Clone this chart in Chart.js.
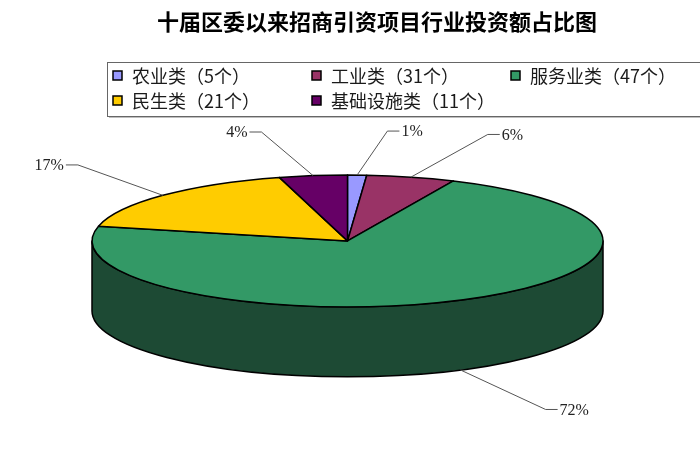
<!DOCTYPE html>
<html>
<head>
<meta charset="utf-8">
<script src="https://cdn.jsdelivr.net/npm/chart.js@4.4.1/dist/chart.umd.min.js"></script>
<style>
  html, body { margin: 0; padding: 0; background: #fff; }
  #wrap { width: 700px; height: 450px; position: relative; }
</style>
</head>
<body>
<div id="wrap"><canvas id="pieChart"></canvas></div>
<script>
// ===== data =====
const chartTitle    = "十届区委以来招商引资项目行业投资额占比图";
const categories    = ["农业类", "工业类", "服务业类", "民生类", "基础设施类"];
const projectCounts = [5, 31, 47, 21, 11];
const shareValues   = [1.2, 5.6, 71.8, 17.1, 4.3];

// ===== styles =====
const topColors  = ["#9999ff", "#993366", "#339966", "#ffcc00", "#660066"];
const sideColors = ["#55558f", "#55203a", "#1d4a34", "#8a6e00", "#3a003a"];
const TILT  = 0.258;   // ry / rx
const DEPTH = 0.274;   // depth / rx

const legendLabels = categories.map((c, i) => c + "（" + projectCounts[i] + "个）");

/** geometry of the flattened pie inside the chart area */
function pieGeom(chart) {
  const a = chart.chartArea;
  const rx = (a.right - a.left) / 2;
  const ry = rx * TILT;
  const d  = rx * DEPTH;
  return { cx: a.left + rx, cy: a.top + ry, rx, ry, d };
}

const pie3d = {
  id: "pie3d",
  beforeDatasetsDraw(chart) {
    const ctx  = chart.ctx;
    const meta = chart.getDatasetMeta(0);
    const g    = pieGeom(chart);
    ctx.save();
    ctx.lineJoin = "round";
    ctx.strokeStyle = "#000";
    ctx.lineWidth = 1.5;

    // side walls (front half only)
    meta.data.forEach((arc, i) => {
      for (const shift of [0, -2 * Math.PI, 2 * Math.PI]) {
        const s = Math.max(arc.startAngle + shift, 0);
        const e = Math.min(arc.endAngle + shift, Math.PI);
        if (e <= s) continue;
        ctx.beginPath();
        ctx.ellipse(g.cx, g.cy, g.rx, g.ry, 0, s, e);
        ctx.lineTo(g.cx + g.rx * Math.cos(e), g.cy + g.d + g.ry * Math.sin(e));
        ctx.ellipse(g.cx, g.cy + g.d, g.rx, g.ry, 0, e, s, true);
        ctx.closePath();
        ctx.fillStyle = sideColors[i];
        ctx.fill();
        ctx.stroke();
      }
    });

    // top faces
    meta.data.forEach((arc, i) => {
      ctx.beginPath();
      ctx.moveTo(g.cx, g.cy);
      ctx.ellipse(g.cx, g.cy, g.rx, g.ry, 0, arc.startAngle, arc.endAngle);
      ctx.closePath();
      ctx.fillStyle = topColors[i];
      ctx.fill();
      ctx.stroke();
    });

    // percentage labels with leader lines
    const total = shareValues.reduce((s, v) => s + v, 0);
    ctx.font = "16px 'Liberation Serif'";
    ctx.textBaseline = "middle";
    ctx.lineWidth = 1;
    ctx.strokeStyle = "#555";
    ctx.fillStyle = "#222";
    meta.data.forEach((arc, i) => {
      const m = (arc.startAngle + arc.endAngle) / 2;
      const c = Math.cos(m), sn = Math.sin(m);
      const side = c >= 0 ? 1 : -1;
      const ax = g.cx + g.rx * c;
      const ay = g.cy + g.ry * sn + (sn > 0 ? g.d : 0);
      const ex = ax + side * Math.min(85, 22 + 220 * Math.abs(c));
      const ey = ay + sn * 44;
      const hx = ex + side * 12;
      ctx.beginPath();
      ctx.moveTo(ax, ay);
      ctx.lineTo(ex, ey);
      ctx.lineTo(hx, ey);
      ctx.stroke();
      ctx.textAlign = side > 0 ? "left" : "right";
      const txt = Math.round(shareValues[i] / total * 100) + "%";
      ctx.fillText(txt, hx + side * 2, ey + 1);
    });

    ctx.restore();
    return false;
  },
  afterDraw(chart) {
    const ctx = chart.ctx;
    ctx.save();
    // title
    ctx.fillStyle = "#000";
    ctx.font = "bold 22px 'Noto Sans CJK SC'";
    ctx.textAlign = "center";
    ctx.textBaseline = "middle";
    ctx.fillText(chartTitle, 377, 22);

    // legend box
    const lx = 107, ly = 62, lh = 54;
    ctx.fillStyle = "rgba(0,0,0,0.25)";
    ctx.fillRect(lx + 2, ly + lh, 700, 2);
    ctx.fillStyle = "#fff";
    ctx.fillRect(lx, ly, 700, lh);
    ctx.strokeStyle = "#666";
    ctx.lineWidth = 1;
    ctx.strokeRect(lx + 0.5, ly + 0.5, 700, lh);

    ctx.font = "18px 'Noto Sans CJK SC'";
    ctx.textAlign = "left";
    legendLabels.forEach((t, i) => {
      const col = i % 3, row = Math.floor(i / 3);
      const x = lx + 6 + col * 199;
      const y = ly + 14 + row * 25;
      ctx.fillStyle = topColors[i];
      ctx.fillRect(x, y - 5, 9, 9);
      ctx.strokeStyle = "#000";
      ctx.lineWidth = 1.5;
      ctx.strokeRect(x, y - 5, 9, 9);
      ctx.fillStyle = "#1a1a1a";
      ctx.fillText(t, x + 19, y);
    });
    ctx.restore();
  }
};

new Chart(document.getElementById("pieChart"), {
  type: "pie",
  data: {
    labels: legendLabels,
    datasets: [{ data: shareValues, backgroundColor: topColors, borderWidth: 0 }]
  },
  options: {
    responsive: true,
    maintainAspectRatio: false,
    animation: false,
    layout: { padding: { left: 92, right: 97, top: 175, bottom: 73 } },
    plugins: { legend: { display: false }, title: { display: false }, tooltip: { enabled: false } }
  },
  plugins: [pie3d]
});
</script>
</body>
</html>
